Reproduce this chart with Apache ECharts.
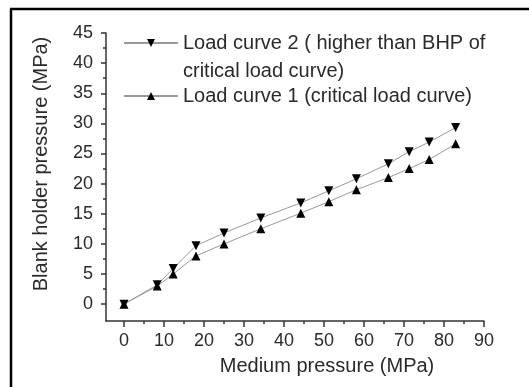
<!DOCTYPE html>
<html>
<head>
<meta charset="utf-8">
<script src="https://cdn.jsdelivr.net/npm/echarts@6/dist/echarts.min.js"></script>
<style>
html,body{margin:0;padding:0;background:#fff;}
#chart{width:529px;height:387px;}
</style>
</head>
<body>
<div id="chart"></div>
<script>
// ---- data ----
var mediumPressure = [0, 8.3, 12.3, 18, 25, 34.2, 44.2, 51.2, 58.1, 66.1, 71.3, 76.3, 82.9];
var curve2 = [0, 3.2, 5.9, 9.7, 11.8, 14.3, 16.8, 18.8, 20.8, 23.3, 25.3, 26.9, 29.3];
var curve1 = [0, 3.0, 5.0, 8.0, 10.0, 12.5, 15.1, 17.0, 19.0, 21.0, 22.5, 24.0, 26.6];
var xTicks = [0, 10, 20, 30, 40, 50, 60, 70, 80, 90];
var xMinorTicks = [5, 15, 25, 35, 45, 55, 65, 75, 85];
var yTicks = [0, 5, 10, 15, 20, 25, 30, 35, 40, 45];
var yMinorTicks = [2.5, 7.5, 12.5, 17.5, 22.5, 27.5, 32.5, 37.5, 42.5];
var name2 = 'Load curve 2 ( higher than BHP of';
var name2b = 'critical load curve)';
var name1 = 'Load curve 1 (critical load curve)';
var xTitle = 'Medium pressure (MPa)';
var yTitle = 'Blank holder pressure (MPa)';

function pairs(xs, ys){ return xs.map(function(x,i){ return [x, ys[i]]; }); }

var FONT = 'Liberation Sans, Arial, sans-serif';
var TXT = '#2a2a2a';
var AX = '#333';
var grid = {left:106, right:45, top:33, bottom:66};
var xMin = -4.5, xMax = 90, yMin = -2.8, yMax = 45;

var chart = echarts.init(document.getElementById('chart'), null, {renderer:'canvas'});
var option = {
  animation:false,
  backgroundColor:'#fff',
  grid:[grid],
  xAxis:[{
    type:'value', min:xMin, max:xMax, gridIndex:0,
    axisLine:{show:true, onZero:false, lineStyle:{color:AX, width:1.5}},
    axisTick:{show:true, inside:false, length:6, customValues:xTicks, lineStyle:{color:AX, width:1.5}},
    axisLabel:{show:true, customValues:xTicks, margin:11, fontFamily:FONT, fontSize:18, color:TXT},
    splitLine:{show:false}
  },{
    type:'value', min:xMin, max:xMax, gridIndex:0, position:'bottom',
    axisLine:{show:false, onZero:false},
    axisTick:{show:true, inside:false, length:3, customValues:xMinorTicks, lineStyle:{color:AX, width:1.5}},
    axisLabel:{show:false},
    splitLine:{show:false}
  }],
  yAxis:[{
    type:'value', min:yMin, max:yMax, gridIndex:0,
    axisLine:{show:true, onZero:false, lineStyle:{color:AX, width:1.5}},
    axisTick:{show:true, inside:false, length:5, customValues:yTicks, lineStyle:{color:AX, width:1.5}},
    axisLabel:{show:true, customValues:yTicks, margin:13, fontFamily:FONT, fontSize:18, color:TXT},
    splitLine:{show:false}
  },{
    type:'value', min:yMin, max:yMax, gridIndex:0, position:'left',
    axisLine:{show:false, onZero:false},
    axisTick:{show:true, inside:false, length:3, customValues:yMinorTicks, lineStyle:{color:AX, width:1.5}},
    axisLabel:{show:false},
    splitLine:{show:false}
  }],
  legend:[{
    data:[name2], orient:'vertical', left:123, top:1, padding:0,
    itemWidth:54, itemHeight:10,
    formatter:function(n){ return ' \n' + n + '\n' + name2b; },
    textStyle:{fontFamily:FONT, fontSize:20, color:TXT, lineHeight:28}
  },{
    data:[name1], orient:'vertical', left:123, top:82, padding:0,
    itemWidth:54, itemHeight:10,
    textStyle:{fontFamily:FONT, fontSize:20, color:TXT, lineHeight:28}
  }],
  series:[{
    name:name2, type:'line', xAxisIndex:0, yAxisIndex:0,
    data:pairs(mediumPressure, curve2),
    symbol:'triangle', symbolRotate:180, symbolSize:9,
    lineStyle:{color:'#999', width:1},
    itemStyle:{color:'#000'}
  },{
    name:name1, type:'line', xAxisIndex:0, yAxisIndex:0,
    data:pairs(mediumPressure, curve1),
    symbol:'triangle', symbolSize:9,
    lineStyle:{color:'#999', width:1},
    itemStyle:{color:'#000'}
  }],
  graphic:[
    {type:'line', silent:true, shape:{x1:11, y1:9, x2:11, y2:387}, style:{stroke:'#000', lineWidth:2.5}},
    {type:'line', silent:true, shape:{x1:10, y1:9, x2:529, y2:9}, style:{stroke:'#000', lineWidth:2.5}},
    {type:'text', silent:true, x:327, y:366, style:{text:xTitle, fontFamily:FONT, fontSize:20, fill:TXT, align:'center', verticalAlign:'middle'}},
    {type:'text', silent:true, x:41, y:164, rotation:Math.PI/2, style:{text:yTitle, fontFamily:FONT, fontSize:20, fill:TXT, align:'center', verticalAlign:'middle'}}
  ]
};
chart.setOption(option);
</script>
</body>
</html>
